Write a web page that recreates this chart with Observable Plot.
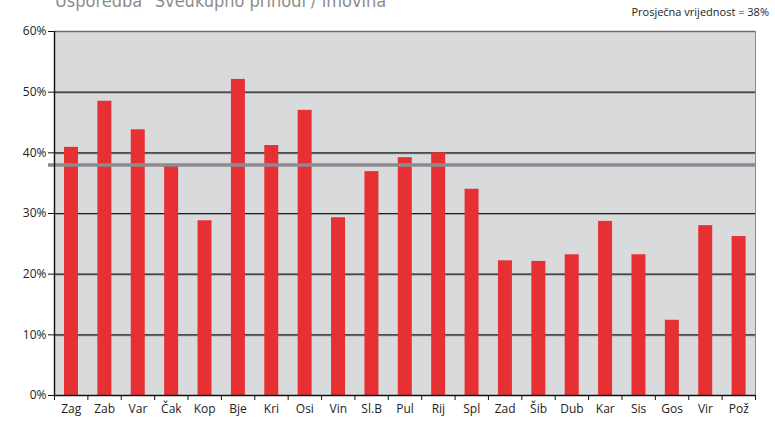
<!DOCTYPE html>
<html>
<head>
<meta charset="utf-8">
<script src="https://cdn.jsdelivr.net/npm/d3@7"></script>
<script src="https://cdn.jsdelivr.net/npm/@observablehq/plot@0.6"></script>
<style>
  html, body { margin: 0; padding: 0; background: #ffffff; }
  #wrap { position: relative; width: 775px; height: 421px; overflow: hidden; font-family: "Open Sans", sans-serif; }
  #title { position: absolute; left: 55px; top: -10px; font-family: "Liberation Sans Narrow", "DejaVu Sans Condensed", sans-serif; font-size: 18px; color: #8c8c8c; white-space: nowrap; }
  #avg { position: absolute; right: 6px; top: 4px; font-size: 11px; color: #222; white-space: nowrap; }
  #chart { position: absolute; left: 0; top: 0; }
</style>
</head>
<body>
<div id="wrap">
  <div id="chart"></div>
  <div id="title">Usporedba "Sveukupno prihodi / imovina"</div>
  <div id="avg">Prosječna vrijednost = 38%</div>
</div>
<script>
const categories = ["Zag","Zab","Var","Čak","Kop","Bje","Kri","Osi","Vin","Sl.B","Pul","Rij","Spl","Zad","Šib","Dub","Kar","Sis","Gos","Vir","Pož"];
const values = [40.9, 48.5, 43.8, 38.1, 28.8, 52.1, 41.2, 47.0, 29.3, 36.9, 39.2, 40.0, 34.0, 22.2, 22.1, 23.2, 28.7, 23.2, 12.4, 28.0, 26.2];
const average = 38;
const yTicks = [0, 10, 20, 30, 40, 50, 60];

const data = categories.map((c, i) => ({cat: c, idx: i, value: values[i]}));
const n = categories.length;

const chart = Plot.plot({
  width: 775,
  height: 421,
  marginLeft: 54,
  marginRight: 20,
  marginTop: 31,
  marginBottom: 26,
  style: {fontFamily: "'Open Sans', sans-serif", fontSize: "12px", color: "#222", background: "transparent"},
  x: {type: "linear", domain: [0, n], axis: null},
  y: {domain: [0, 60], axis: null},
  marks: [
    Plot.frame({fill: "#d9dadc", stroke: null}),
    Plot.ruleY(yTicks.filter(t => t > 0 && t < 60), {y: d => d, stroke: "#a0a0a0", strokeWidth: 1, dy: 1}),
    Plot.ruleY(yTicks.filter(t => t > 0 && t < 60), {y: d => d, stroke: "#1e1e1e", strokeWidth: 1.2}),
    Plot.ruleY([60], {stroke: "#6e6e6e", strokeWidth: 1.6}),
    Plot.ruleX([n], {stroke: "#8a8a8a", strokeWidth: 1}),
    Plot.rectY(data, {x1: d => d.idx, x2: d => d.idx + 1, y: "value", fill: "#e63033", insetLeft: 10, insetRight: 9.4}),
    Plot.ruleY([average], {stroke: "#8b8b90", strokeWidth: 3.5, insetLeft: -6, insetRight: -1}),
    Plot.ruleX([0], {stroke: "#111", strokeWidth: 1.4}),
    Plot.ruleY([0], {stroke: "#111", strokeWidth: 1.4}),
    Plot.axisY(yTicks, {tickSize: 6, tickPadding: 2, tickFormat: d => d + "%", stroke: "#111", fontSize: 12, label: null}),
    Plot.axisX(d3.range(n + 1), {tickSize: 5, tickFormat: () => "", stroke: "#111", label: null}),
    Plot.text(data, {x: d => d.idx + 0.5, y: 0, text: "cat", dy: 14, fontSize: 12, fill: "#222"})
  ]
});
document.getElementById("chart").appendChild(chart);
</script>
</body>
</html>
